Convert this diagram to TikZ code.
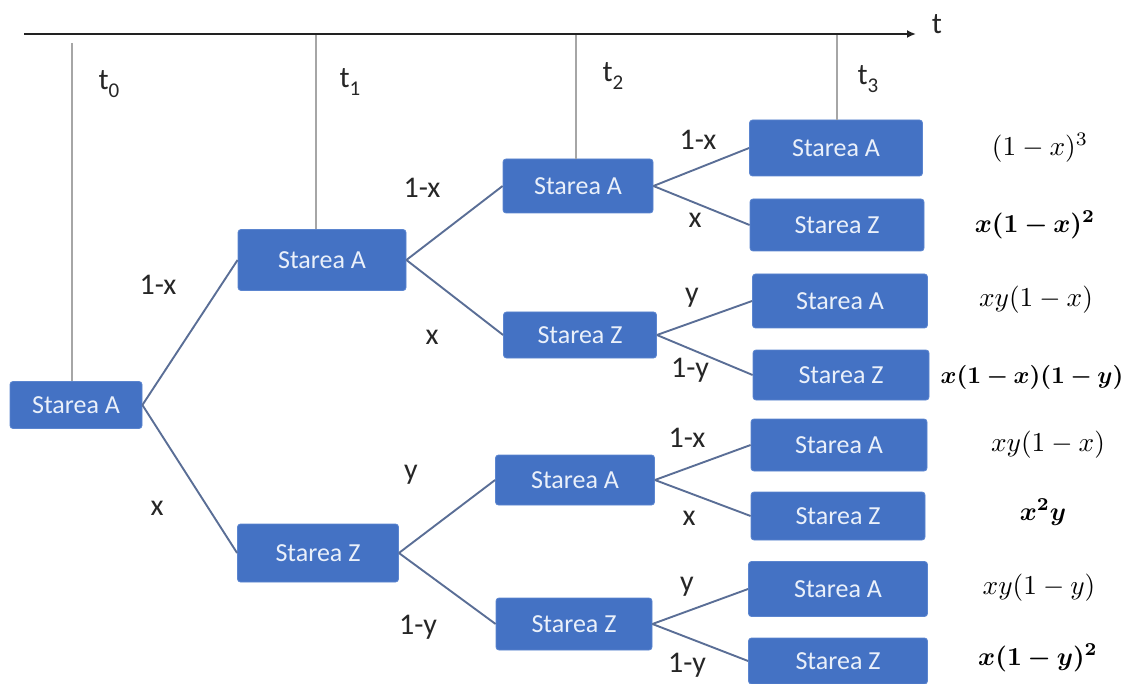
\documentclass[tikz,border=0pt]{standalone}
\usepackage{bm}
\usepackage[no-math]{fontspec}
\setmainfont{Carlito}
\usetikzlibrary{arrows.meta}
\definecolor{boxfill}{HTML}{4472C4}
\definecolor{boxedge}{HTML}{5B85CF}
\definecolor{boxtext}{HTML}{EAF0FA}
\definecolor{connc}{HTML}{5A6E96}
\definecolor{vlc}{HTML}{A6A6A6}
\definecolor{axisc}{HTML}{222222}
\tikzset{
  box/.style={draw=boxedge, fill=boxfill, rounded corners=3pt, text=boxtext,
    font=\fontsize{26}{30}\selectfont, inner sep=0pt, line width=0.8pt},
  conn/.style={draw=connc, line width=1.9pt},
  vline/.style={draw=vlc, line width=1.3pt},
  axisline/.style={draw=axisc, line width=2.8pt},
  lbl/.style={font=\fontsize{30}{34}\selectfont, text=black!85, inner sep=0pt},
  res/.style={scale=2.6, inner sep=0pt},
}
\newcommand{\tsub}[1]{t\raisebox{-0.28em}{\fontsize{21}{21}\selectfont #1}}
\begin{document}
\begin{tikzpicture}[x=1pt,y=-1pt]
\useasboundingbox (0,0) rectangle (1129,684);
% time axis
\coordinate (axs) at (24,34);
\coordinate (axe) at (916,34);
\draw[axisline, -{Latex[length=9pt,width=8pt]}] (axs) -- (axe);
\node[lbl] (tlab) at (937,24) {t};

% nodes
\node[box, minimum width=132pt, minimum height=47pt] (r) at (76,405) {Starea A};
\node[box, minimum width=168pt, minimum height=61pt] (a1) at (322,260) {Starea A};
\node[box, minimum width=161pt, minimum height=58pt] (z1) at (318,553) {Starea Z};
\node[box, minimum width=150pt, minimum height=54pt] (a2) at (578,186) {Starea A};
\node[box, minimum width=153pt, minimum height=46pt] (z2) at (580,335) {Starea Z};
\node[box, minimum width=159pt, minimum height=50pt] (a2b) at (575,480) {Starea A};
\node[box, minimum width=156pt, minimum height=52pt] (z2b) at (574,624) {Starea Z};
\node[box, minimum width=173pt, minimum height=56pt] (l1) at (836,148) {Starea A};
\node[box, minimum width=174pt, minimum height=52pt] (l2) at (837,225) {Starea Z};
\node[box, minimum width=175pt, minimum height=54pt] (l3) at (840,301) {Starea A};
\node[box, minimum width=176pt, minimum height=50pt] (l4) at (841,375) {Starea Z};
\node[box, minimum width=176pt, minimum height=52pt] (l5) at (839,445) {Starea A};
\node[box, minimum width=174pt, minimum height=48pt] (l6) at (838,516) {Starea Z};
\node[box, minimum width=179pt, minimum height=55pt] (l7) at (838,589) {Starea A};
\node[box, minimum width=179pt, minimum height=46pt] (l8) at (838,661) {Starea Z};

% vertical time lines
\coordinate (v0) at (72,43);
\coordinate (v1) at (316,35);
\coordinate (v2) at (576,35);
\coordinate (v3) at (837,35);
\draw[vline] (v0) -- (v0 |- r.north);
\draw[vline] (v1) -- (v1 |- a1.north);
\draw[vline] (v2) -- (v2 |- a2.north);
\draw[vline] (v3) -- (v3 |- l1.north);
\node[lbl] (t0) at (109,84) {\tsub{0}};
\node[lbl] (t1) at (350,82) {\tsub{1}};
\node[lbl] (t2) at (613,76) {\tsub{2}};
\node[lbl] (t3) at (868,79) {\tsub{3}};

% connectors
\draw[conn] (r.east) -- (a1.west);
\draw[conn] (r.east) -- (z1.west);
\draw[conn] (a1.east) -- (a2.west);
\draw[conn] (a1.east) -- (z2.west);
\draw[conn] (z1.east) -- (a2b.west);
\draw[conn] (z1.east) -- (z2b.west);
\draw[conn] (a2.east) -- (l1.west);
\draw[conn] (a2.east) -- (l2.west);
\draw[conn] (z2.east) -- (l3.west);
\draw[conn] (z2.east) -- (l4.west);
\draw[conn] (a2b.east) -- (l5.west);
\draw[conn] (a2b.east) -- (l6.west);
\draw[conn] (z2b.east) -- (l7.west);
\draw[conn] (z2b.east) -- (l8.west);

% edge labels
\node[lbl] (e1) at (158,285) {1-x};
\node[lbl] (e2) at (157,508) {x};
\node[lbl] (e3) at (422,188) {1-x};
\node[lbl] (e4) at (432,337) {x};
\node[lbl] (e5) at (411,475) {y};
\node[lbl] (e6) at (418,627) {1-y};
\node[lbl] (e7) at (698,140) {1-x};
\node[lbl] (e8) at (695,220) {x};
\node[lbl] (e9) at (692,298) {y};
\node[lbl] (e10) at (690,370) {1-y};
\node[lbl] (e11) at (687,438) {1-x};
\node[lbl] (e12) at (689,518) {x};
\node[lbl] (e13) at (687,587) {y};
\node[lbl] (e14) at (687,665) {1-y};

% results
\node[res, scale=1.05] (p1) at (1040,148) {$(1-x)^3$};
\node[res] (p2) at (1035,225) {$\bm{x(1-x)^2}$};
\node[res, scale=1.05] (p3) at (1036,300) {$xy(1-x)$};
\node[res, scale=0.93] (p4) at (1032,377) {$\bm{x(1-x)(1-y)}$};
\node[res, scale=1.05] (p5) at (1048,445) {$xy(1-x)$};
\node[res] (p6) at (1043,512) {$\bm{x^2y}$};
\node[res, scale=1.05] (p7) at (1039,588) {$xy(1-y)$};
\node[res] (p8) at (1038,658) {$\bm{x(1-y)^2}$};
\end{tikzpicture}
\end{document}
